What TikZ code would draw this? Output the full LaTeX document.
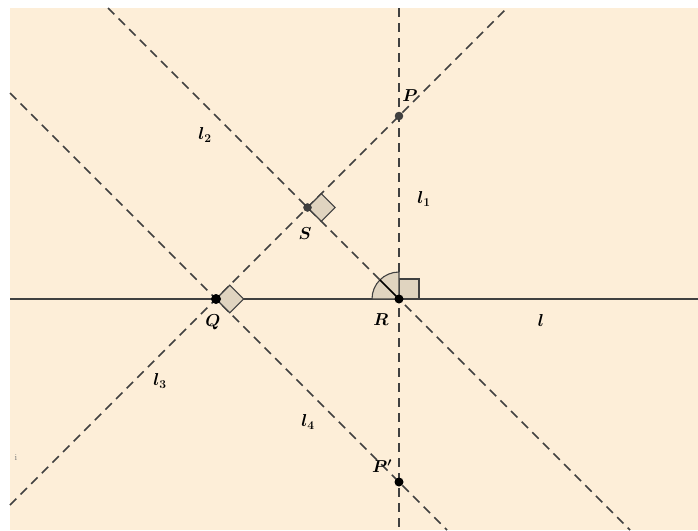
\documentclass[tikz,border=0pt]{standalone}
\usepackage{xcolor}
\definecolor{paper}{RGB}{253,238,216}
\definecolor{ink}{RGB}{64,64,64}
\definecolor{markfill}{RGB}{224,212,192}
\begin{document}
\begin{tikzpicture}[
    x=1pt,
    y=-1pt,
    baseline/.style={
        ink,
        line width=1.6pt
    },
    dashline/.style={
        ink,
        line width=1.6pt,
        dash pattern=on 9pt off 6pt
    },
    rightangle/.style={
        fill=markfill,
        draw=black!75,
        line width=1.1pt
    },
    dot/.style={
        circle,
        fill=black,
        inner sep=0pt,
        minimum size=9pt
    },
    greydot/.style={
        circle,
        fill=ink,
        draw=black!80,
        inner sep=0pt,
        minimum size=8pt
    },
    lbl/.style={
        font=\fontsize{17.28}{19}\selectfont\boldmath,
        inner sep=0pt
    }
]
\useasboundingbox (0,0) rectangle (698,530);
\fill [paper] (10,8) rectangle (698,530);

% Points
\coordinate (P) at (399,116);
\coordinate (Q) at (216,299);
\coordinate (R) at (399,299);
\coordinate (S) at (307.5,207.5);
\coordinate (Pp) at (399,482);

% Line ends
\coordinate (la) at (10,299);
\coordinate (lb) at (698,299);
\coordinate (l1a) at (399,8);
\coordinate (l1b) at (399,530);
\coordinate (l2a) at (108,8);
\coordinate (l2b) at (630,530);
\coordinate (l3a) at (10,505);
\coordinate (l3b) at (507,8);
\coordinate (l4a) at (10,93);
\coordinate (l4b) at (447,530);

% Lines
\draw [baseline] (la) -- (lb);
\draw [dashline] (l1a) -- (l1b);
\draw [dashline] (l2a) -- (l2b);
\draw [dashline] (l3a) -- (l3b);
\draw [dashline] (l4a) -- (l4b);

% Angle marks
\draw [rightangle] (S) -- ++(45:19.5pt) -- ++(-45:19.5pt) -- ++(-135:19.5pt) -- cycle;
\draw [rightangle] (Q) -- ++(45:19.5pt) -- ++(-45:19.5pt) -- ++(-135:19.5pt) -- cycle;
\draw [rightangle] (R) -- ++(0:20pt) -- ++(90:20pt) -- ++(180:20pt) -- cycle;
\draw [rightangle] (R) -- ++(180:27pt) arc[start angle=180, end angle=90, radius=27pt] -- cycle;
\draw [black, line width=1.6pt] (R) -- ++(135:27pt);

% Dots
\node [greydot] (dotP) at (P) {};
\node [greydot] (dotS) at (S) {};
\node [dot, minimum size=10pt] (dotQ) at (Q) {};
\node [dot] (dotR) at (R) {};
\node [dot] (dotPp) at (Pp) {};

% Labels
\node [lbl] (labP) at (410,96) {$P$};
\node [lbl] (labS) at (305,234) {$S$};
\node [lbl] (labQ) at (213,322) {$Q$};
\node [lbl] (labR) at (381,320) {$R$};
\node [lbl] (labPp) at (382,466) {$P'$};
\node [lbl] (labl) at (541,320) {$l$};
\node [lbl] (labl1) at (424,199) {$l_1$};
\node [lbl] (labl2) at (205,135) {$l_2$};
\node [lbl] (labl3) at (160,381) {$l_3$};
\node [lbl] (labl4) at (308,422) {$l_4$};
\node [font=\small, text=black!55, inner sep=0pt] (labi) at (16,458) {i};

\end{tikzpicture}
\end{document}
